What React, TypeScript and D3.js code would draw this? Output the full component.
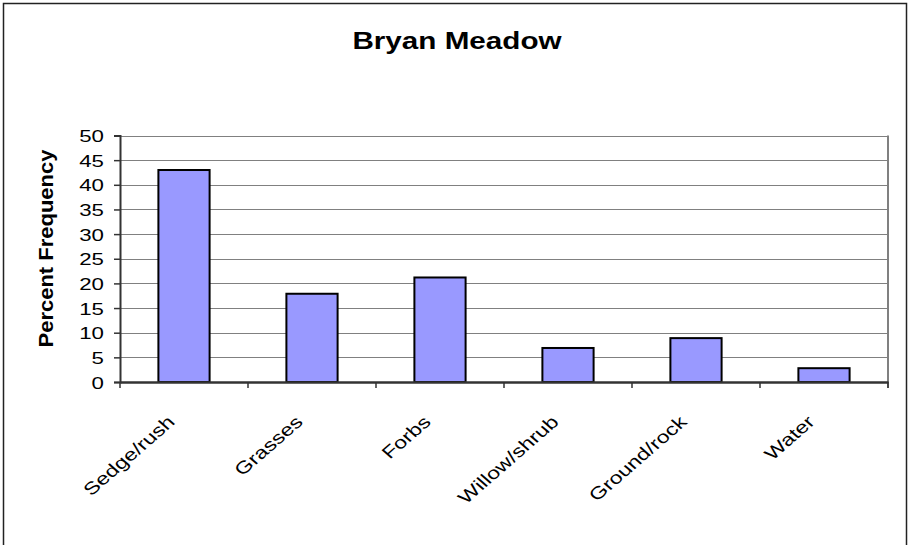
import { useEffect, useRef } from 'react';
import * as d3 from 'd3';

const categories = ['Sedge/rush', 'Grasses', 'Forbs', 'Willow/shrub', 'Ground/rock', 'Water'];
const values = [43, 17.9, 21.2, 6.9, 8.9, 2.8];
const yTicks = [0, 5, 10, 15, 20, 25, 30, 35, 40, 45, 50];

const App = () => {
  const ref = useRef<SVGSVGElement>(null);

  useEffect(() => {
    if (!ref.current) return;
    const svg = d3.select(ref.current);
    svg.selectAll('*').remove();

    const width = 909;
    const height = 545;
    const left = 120;
    const right = 888;
    const top = 135.5;
    const bottom = 382;
    const font = 'Liberation Sans, Arial, sans-serif';

    svg.attr('width', width).attr('height', height);

    // outer frame
    svg
      .append('rect')
      .attr('x', 3.5)
      .attr('y', 3.5)
      .attr('width', 903)
      .attr('height', 560)
      .attr('fill', 'white')
      .attr('stroke', '#222')
      .attr('stroke-width', 1.5);

    const x = d3.scaleBand().domain(categories).range([left, right]).paddingInner(0.6).paddingOuter(0.3);
    const xOuter = d3.scaleBand().domain(categories).range([left, right]);
    const y = d3.scaleLinear().domain([0, 50]).range([bottom, top]);

    // gridlines
    svg
      .append('g')
      .selectAll('line')
      .data(yTicks.filter((t) => t > 0))
      .join('line')
      .attr('x1', left)
      .attr('x2', right)
      .attr('y1', (d) => Math.round(y(d)) + 0.5)
      .attr('y2', (d) => Math.round(y(d)) + 0.5)
      .attr('stroke', '#808080')
      .attr('stroke-width', 1);

    // right plot border
    svg
      .append('line')
      .attr('x1', right)
      .attr('x2', right)
      .attr('y1', y(50))
      .attr('y2', bottom + 6)
      .attr('stroke', '#808080')
      .attr('stroke-width', 2);

    // bars
    svg
      .append('g')
      .selectAll('rect')
      .data(values)
      .join('rect')
      .attr('x', (_, i) => x(categories[i])!)
      .attr('width', x.bandwidth())
      .attr('y', (d) => y(d))
      .attr('height', (d) => bottom - y(d))
      .attr('fill', '#9999ff')
      .attr('stroke', '#000')
      .attr('stroke-width', 2);

    // y axis
    const yAxis = svg
      .append('g')
      .attr('transform', `translate(${left},0)`)
      .call(d3.axisLeft(y).tickValues(yTicks).tickSize(6).tickFormat(() => ''));
    yAxis.select('.domain').attr('stroke', '#333').attr('stroke-width', 2);
    yAxis.selectAll('.tick line').attr('stroke', '#333').attr('stroke-width', 1.5);

    svg
      .append('g')
      .selectAll('text')
      .data(yTicks)
      .join('text')
      .attr('transform', (d) => `translate(104,${y(d) + 6.5}) scale(1.35,1)`)
      .attr('text-anchor', 'end')
      .attr('font-family', font)
      .attr('font-size', 16.5)
      .attr('fill', '#000')
      .text((d) => d);

    // x axis
    const xAxis = svg
      .append('g')
      .attr('transform', `translate(0,${bottom})`)
      .call(d3.axisBottom(xOuter).tickSize(0).tickFormat(() => ''));
    xAxis.select('.domain').attr('stroke', '#333').attr('stroke-width', 2.5);

    // x ticks at category boundaries
    const bounds = d3.range(categories.length + 1).map((i) => left + i * xOuter.step());
    svg
      .append('g')
      .selectAll('line')
      .data(bounds)
      .join('line')
      .attr('x1', (d) => d)
      .attr('x2', (d) => d)
      .attr('y1', bottom)
      .attr('y2', bottom + 6)
      .attr('stroke', '#333')
      .attr('stroke-width', 1.5);

    // x labels
    svg
      .append('g')
      .selectAll('text')
      .data(categories)
      .join('text')
      .attr(
        'transform',
        (d) =>
          `translate(${xOuter(d)! + xOuter.bandwidth() / 2 - 8},${bottom + 41}) scale(1.15,1) rotate(-45) scale(1.2,1)`
      )
      .attr('text-anchor', 'end')
      .attr('font-family', font)
      .attr('font-size', 17)
      .attr('fill', '#000')
      .text((d) => d);

    // y axis title
    svg
      .append('text')
      .attr('transform', `translate(52.5,248.5) rotate(-90) scale(1.1,1)`)
      .attr('text-anchor', 'middle')
      .attr('font-family', font)
      .attr('font-size', 20)
      .attr('font-weight', 'bold')
      .text('Percent Frequency');

    // title
    svg
      .append('text')
      .attr('transform', `translate(457,49) scale(1.21,1)`)
      .attr('text-anchor', 'middle')
      .attr('font-family', font)
      .attr('font-size', 24.5)
      .attr('font-weight', 'bold')
      .text('Bryan Meadow');
  }, []);

  return (
    <div style={{ position: 'absolute', left: 0, top: 0 }}>
      <svg ref={ref} style={{ display: 'block' }} />
    </div>
  );
};

export default App;
